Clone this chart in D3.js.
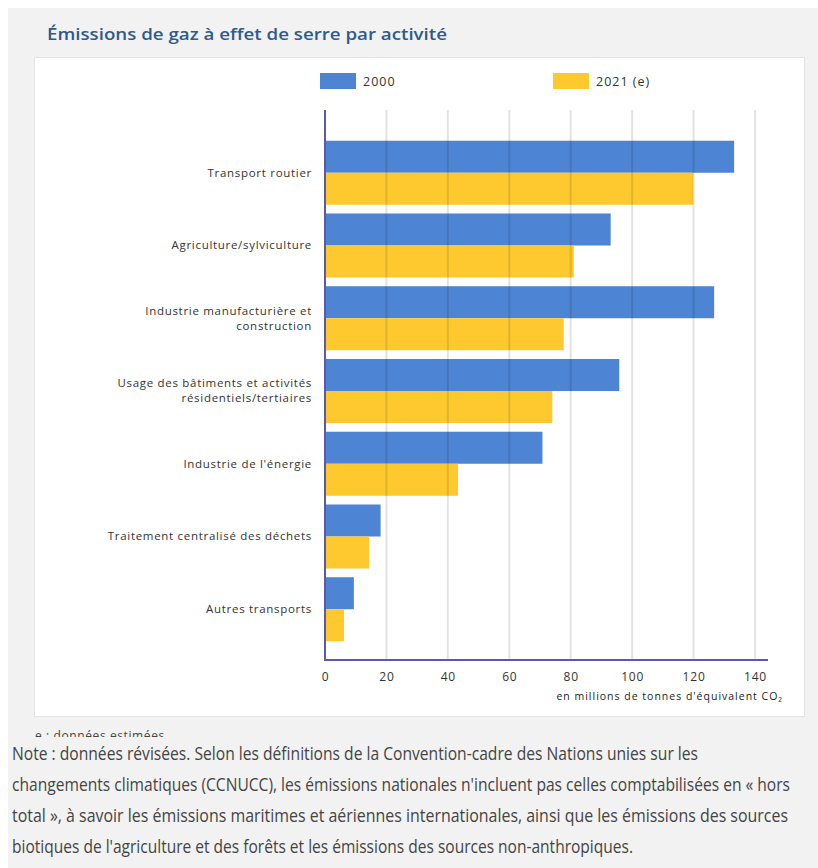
<!DOCTYPE html>
<html>
<head>
<meta charset="utf-8">
<script src="https://cdn.jsdelivr.net/npm/d3@7"></script>
<style>
  body { margin: 0; background: #fff; }
  svg { display: block; }
</style>
</head>
<body>
<svg id="chart"></svg>
<script>
// values, millions of tonnes CO2 eq
const categories = [
  'Transport routier',
  'Agriculture/sylviculture',
  'Industrie manufacturière et|construction',
  'Usage des bâtiments et activités|résidentiels/tertiaires',
  "Industrie de l'énergie",
  'Traitement centralisé des déchets',
  'Autres transports'
]
const values2000 = [133.2, 93, 126.7, 95.8, 70.8, 18.1, 9.4]
const values2021 = [119.9, 81, 77.7, 74, 43.3, 14.4, 6.2]
const seriesNames = ['2000', '2021 (e)']
const xTicks = [0, 20, 40, 60, 80, 100, 120, 140]
const noteLines = [
  'Note : données révisées. Selon les définitions de la Convention-cadre des Nations unies sur les',
  "changements climatiques (CCNUCC), les émissions nationales n'incluent pas celles comptabilisées en « hors",
  'total », à savoir les émissions maritimes et aériennes internationales, ainsi que les émissions des sources',
  "biotiques de l'agriculture et des forêts et les émissions des sources non-anthropiques."
]
const noteWidths = [686, 778, 776, 621]

const width = 818
const height = 868
const colors = ['#4d84d4', '#fec92e']
const font = '"Open Sans", sans-serif'

const svg = d3.select('#chart')
  .attr('width', width)
  .attr('height', height)

// page background and panels
svg.append('rect').attr('x', 8).attr('y', 8).attr('width', width - 8).attr('height', height - 8)
  .attr('fill', '#f2f2f2')
svg.append('rect').attr('x', 34.5).attr('y', 57.5).attr('width', 770).attr('height', 659)
  .attr('fill', '#fff').attr('stroke', '#e4e4e4')

svg.append('text')
  .attr('x', 47).attr('y', 40)
  .attr('font-family', font).attr('font-weight', 600).attr('font-size', 16)
  .attr('fill', '#2f5a8c')
  .attr('textLength', 400).attr('lengthAdjust', 'spacingAndGlyphs')
  .text('Émissions de gaz à effet de serre par activité')

const x = d3.scaleLinear()
  .domain([0, 140])
  .range([325, 755])

const y = d3.scaleBand()
  .domain(categories)
  .range([132, 650])
  .paddingInner(0.12)
  .paddingOuter(0.12)

const sub = d3.scaleBand()
  .domain(seriesNames)
  .range([0, y.bandwidth()])

// legend
const legend = svg.append('g')
  .selectAll('g')
  .data(seriesNames)
  .join('g')
    .attr('transform', (d, i) => `translate(${[320, 553][i]}, 73)`)
legend.append('rect')
  .attr('width', 36).attr('height', 16)
  .attr('fill', (d, i) => colors[i])
legend.append('text')
  .attr('x', 43).attr('y', 13)
  .attr('font-family', font).attr('font-size', 12.5).attr('letter-spacing', 1)
  .attr('fill', '#333')
  .text(d => d)

// bars
const rows = categories.map((c, i) => ({cat: c, vals: [values2000[i], values2021[i]]}))
const groups = svg.append('g')
  .selectAll('g')
  .data(rows)
  .join('g')
    .attr('transform', d => `translate(0, ${y(d.cat)})`)
groups.selectAll('rect')
  .data(d => d.vals.map((v, i) => ({v: v, s: seriesNames[i], i: i})))
  .join('rect')
    .attr('x', x(0))
    .attr('y', d => sub(d.s))
    .attr('width', d => x(d.v) - x(0))
    .attr('height', sub.bandwidth())
    .attr('fill', d => colors[d.i])

// gridlines (drawn over the bars, faint)
svg.append('g')
  .selectAll('line')
  .data(xTicks.slice(1))
  .join('line')
    .attr('x1', d => x(d)).attr('x2', d => x(d))
    .attr('y1', 110).attr('y2', 660)
    .attr('stroke', 'rgba(0,0,0,0.11)').attr('stroke-width', 2)

// category labels
groups.append('text')
  .attr('font-family', font).attr('font-size', 11.5).attr('letter-spacing', 0.7)
  .attr('fill', '#333')
  .attr('text-anchor', 'end')
  .each(function(d) {
    const parts = d.cat.split('|')
    const mid = y.bandwidth() / 2
    d3.select(this).selectAll('tspan')
      .data(parts)
      .join('tspan')
        .attr('x', 312)
        .attr('y', (p, i) => mid + 4 + (i - (parts.length - 1) / 2) * 15)
        .text(p => p)
  })

// axes
const xAxis = svg.append('g')
  .attr('transform', 'translate(0, 660)')
  .call(d3.axisBottom(x).tickValues(xTicks).tickSize(0).tickPadding(12))
xAxis.select('.domain').remove()
xAxis.selectAll('text')
  .attr('font-family', font).attr('font-size', 12).attr('letter-spacing', 0.8)
  .attr('fill', '#333')
svg.append('line')
  .attr('x1', x(0)).attr('x2', 768).attr('y1', 660).attr('y2', 660)
  .attr('stroke', '#5d58a8').attr('stroke-width', 2)
svg.append('line')
  .attr('x1', x(0)).attr('x2', x(0)).attr('y1', 110).attr('y2', 661)
  .attr('stroke', '#5d58a8').attr('stroke-width', 2)

svg.append('text')
  .attr('x', 783).attr('y', 700)
  .attr('text-anchor', 'end')
  .attr('font-family', font).attr('font-size', 10.5).attr('letter-spacing', 1)
  .attr('fill', '#222')
  .text("en millions de tonnes d'équivalent CO₂")

// footnotes
svg.append('text')
  .attr('x', 35).attr('y', 740)
  .attr('font-family', font).attr('font-size', 12).attr('letter-spacing', 0.6)
  .attr('fill', '#444')
  .text('e : données estimées.')
svg.append('rect').attr('x', 8).attr('y', 737).attr('width', width - 8).attr('height', 5)
  .attr('fill', '#f2f2f2')

svg.append('g')
  .selectAll('text')
  .data(noteLines)
  .join('text')
    .attr('x', 12)
    .attr('y', (d, i) => 760 + i * 31)
    .attr('font-family', '"Liberation Sans Narrow", "Open Sans", sans-serif')
    .attr('font-size', 17.5)
    .attr('fill', '#444')
    .attr('textLength', (d, i) => noteWidths[i])
    .attr('lengthAdjust', 'spacingAndGlyphs')
    .text(d => d)
</script>
</body>
</html>
